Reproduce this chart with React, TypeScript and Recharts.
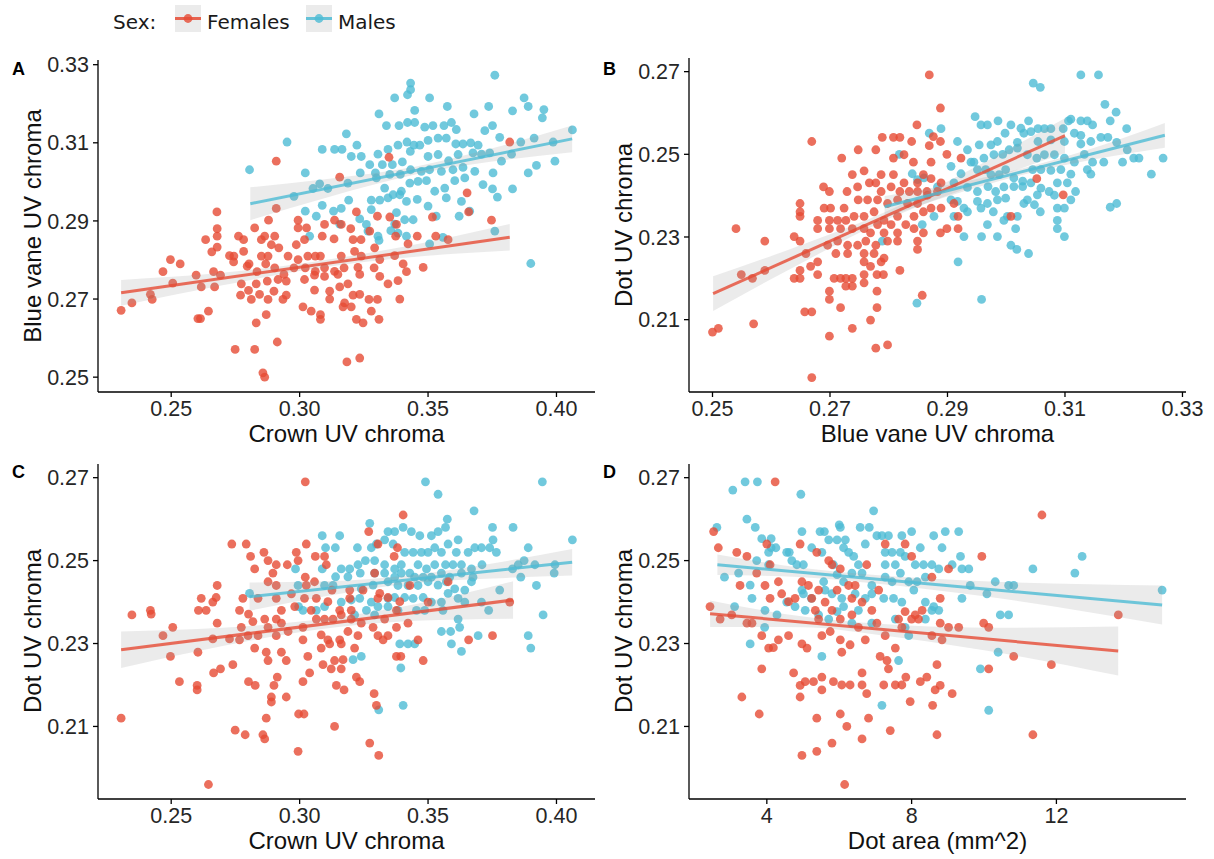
import { ComposedChart, Scatter, Line, Area, XAxis, YAxis } from 'recharts';

const RED = '#E64B35';
const BLUE = '#4DBBD5';
const FONT = '"Liberation Sans", Arial, Helvetica, sans-serif';
const LEGEND_FONT = '"DejaVu Sans", Verdana, sans-serif';

type Pair = [number, number];
type Band = [number, number, number]; // x, lower, upper

// tick values
const crownTicks = [0.25, 0.3, 0.35, 0.4];
const vaneTicks = [0.25, 0.27, 0.29, 0.31, 0.33];
const dotTicks = [0.21, 0.23, 0.25, 0.27];
const areaTicks = [4, 8, 12];

// A: crown UV chroma (x) vs blue vane UV chroma (y)
const crownVaneFemales: Pair[] = [
  [0.2909,0.3053],[0.3348,0.3063],[0.3156,0.3012],[0.3818,0.3102],[0.3652,0.2972],[0.2909,0.2932],[0.2678,0.2923],[0.2879,0.2902],
  [0.2994,0.2902],[0.3136,0.2902],[0.3221,0.2923],[0.3303,0.2912],[0.3351,0.291],[0.3517,0.291],[0.3658,0.2923],[0.3747,0.2902],
  [0.2679,0.288],[0.2825,0.2882],[0.2864,0.2861],[0.2903,0.2861],[0.2994,0.2882],[0.3027,0.2882],[0.3097,0.2891],[0.3162,0.2891],
  [0.3199,0.288],[0.3273,0.2874],[0.3377,0.2891],[0.3458,0.2861],[0.353,0.2861],[0.3578,0.2852],[0.2634,0.2852],[0.2679,0.2861],
  [0.2762,0.2861],[0.2782,0.2852],[0.2851,0.2852],[0.289,0.2839],[0.2919,0.2831],[0.2987,0.2839],[0.3019,0.2852],[0.3088,0.2861],
  [0.3134,0.2854],[0.3208,0.2852],[0.3239,0.2852],[0.3292,0.2831],[0.3374,0.2861],[0.3422,0.2841],[0.2497,0.2801],[0.2535,0.279],
  [0.2658,0.2821],[0.2679,0.2833],[0.2727,0.2811],[0.2744,0.281],[0.2782,0.2822],[0.2803,0.279],[0.2851,0.281],[0.2877,0.281],
  [0.2955,0.281],[0.2994,0.2801],[0.3032,0.281],[0.3061,0.281],[0.3081,0.281],[0.3162,0.281],[0.3214,0.2822],[0.324,0.281],
  [0.3312,0.2801],[0.337,0.2811],[0.3403,0.279],[0.2468,0.277],[0.2597,0.2761],[0.2665,0.277],[0.2692,0.2761],[0.2743,0.2795],
  [0.2796,0.2784],[0.2834,0.277],[0.2868,0.279],[0.2903,0.278],[0.2939,0.2763],[0.2978,0.278],[0.3022,0.278],[0.3061,0.2771],
  [0.3097,0.278],[0.3136,0.2771],[0.3173,0.278],[0.3227,0.2781],[0.329,0.278],[0.3312,0.2758],[0.3416,0.277],[0.3481,0.2781],
  [0.2506,0.2741],[0.2617,0.2731],[0.2669,0.2731],[0.2773,0.2739],[0.2801,0.2722],[0.2831,0.2739],[0.2874,0.2746],[0.2916,0.275],
  [0.2948,0.2746],[0.3019,0.275],[0.3058,0.2761],[0.3097,0.2758],[0.3149,0.2763],[0.3188,0.2739],[0.3234,0.2763],[0.3344,0.2739],
  [0.3383,0.2747],[0.2419,0.2712],[0.2426,0.2699],[0.2347,0.269],[0.2305,0.2671],[0.277,0.271],[0.2812,0.2699],[0.2844,0.2712],
  [0.29,0.272],[0.2948,0.271],[0.3058,0.2723],[0.3117,0.272],[0.3156,0.2731],[0.3208,0.271],[0.3234,0.2712],[0.327,0.2699],
  [0.3303,0.2699],[0.339,0.27],[0.2877,0.2699],[0.2935,0.2699],[0.3117,0.27],[0.3175,0.269],[0.3169,0.268],[0.3201,0.268],
  [0.3013,0.268],[0.3045,0.2669],[0.3081,0.266],[0.3081,0.2648],[0.3221,0.2648],[0.3247,0.2639],[0.3279,0.2669],[0.3309,0.2648],
  [0.2604,0.265],[0.2614,0.265],[0.2645,0.2669],[0.2831,0.2639],[0.287,0.266],[0.2913,0.259],[0.2749,0.2571],[0.2825,0.2571],
  [0.3184,0.2539],[0.3234,0.2549],[0.2857,0.2511],[0.2864,0.25],
];
const crownVaneMales: Pair[] = [
  [0.376,0.3273],[0.3432,0.3253],[0.3432,0.3236],[0.342,0.3223],[0.337,0.3215],[0.3506,0.3215],[0.3874,0.3215],[0.389,0.3193],
  [0.3575,0.3193],[0.3736,0.3193],[0.3951,0.3185],[0.3829,0.3182],[0.3448,0.3183],[0.3309,0.3174],[0.3679,0.3174],[0.3945,0.3164],
  [0.3338,0.3144],[0.3387,0.3144],[0.342,0.3152],[0.3448,0.3152],[0.3487,0.314],[0.3519,0.3144],[0.3562,0.3144],[0.3591,0.3152],
  [0.361,0.3134],[0.3721,0.3131],[0.3751,0.3144],[0.3779,0.3114],[0.3182,0.3123],[0.2951,0.3102],[0.3088,0.3083],[0.3136,0.3083],
  [0.3165,0.3083],[0.3223,0.3094],[0.3305,0.3071],[0.3344,0.3083],[0.3383,0.3094],[0.3418,0.3102],[0.3445,0.3094],[0.3468,0.3094],
  [0.35,0.3106],[0.3539,0.3112],[0.3571,0.3112],[0.3608,0.3097],[0.3636,0.3097],[0.3666,0.31],[0.3695,0.3094],[0.3861,0.3102],
  [0.3913,0.3112],[0.3987,0.3102],[0.4062,0.3133],[0.3201,0.3065],[0.324,0.3065],[0.3273,0.3044],[0.3322,0.3044],[0.3361,0.3044],
  [0.34,0.3051],[0.3431,0.3078],[0.35,0.3065],[0.3539,0.307],[0.358,0.3054],[0.3617,0.307],[0.3675,0.3074],[0.3708,0.3071],
  [0.374,0.3074],[0.3825,0.3071],[0.3786,0.3053],[0.3994,0.3053],[0.2805,0.3031],[0.3022,0.3023],[0.3236,0.3023],[0.3295,0.3023],
  [0.3351,0.3019],[0.3392,0.3019],[0.3432,0.3031],[0.3474,0.3027],[0.3506,0.3031],[0.3552,0.3027],[0.3597,0.3031],[0.3636,0.3037],
  [0.3682,0.3027],[0.3753,0.3023],[0.389,0.3023],[0.3922,0.3042],[0.3052,0.2983],[0.3078,0.2995],[0.311,0.2983],[0.3188,0.2997],
  [0.3299,0.301],[0.3331,0.2984],[0.3364,0.2967],[0.3396,0.2976],[0.3429,0.2997],[0.3461,0.3001],[0.3494,0.3003],[0.3526,0.2976],
  [0.3565,0.2984],[0.3604,0.3003],[0.3643,0.301],[0.3714,0.2993],[0.3751,0.2982],[0.3829,0.2982],[0.377,0.2961],[0.2978,0.2963],
  [0.3022,0.2925],[0.3088,0.294],[0.3132,0.2925],[0.3162,0.2932],[0.3191,0.2953],[0.3279,0.2953],[0.3312,0.2953],[0.3344,0.2959],
  [0.339,0.2967],[0.3416,0.295],[0.3458,0.2955],[0.35,0.2938],[0.3571,0.2959],[0.363,0.295],[0.3662,0.2925],[0.3621,0.2912],
  [0.3065,0.2912],[0.3156,0.2892],[0.3234,0.2905],[0.326,0.2891],[0.3279,0.2929],[0.3377,0.2921],[0.3409,0.2903],[0.3442,0.2903],
  [0.3532,0.2912],[0.337,0.2892],[0.3266,0.2874],[0.3305,0.2861],[0.3355,0.2875],[0.3383,0.2869],[0.3416,0.2861],[0.3039,0.2861],
  [0.3309,0.285],[0.3558,0.2858],[0.3506,0.2841],[0.376,0.2874],[0.39,0.2791],
];
const crownVaneFitF: Pair[] = [[0.2305,0.2716],[0.3818,0.2858]];
const crownVaneFitM: Pair[] = [[0.2808,0.2944],[0.4061,0.311]];
const crownVaneBandF: Band[] = [[0.2305,0.2683,0.2749],[0.27,0.2735,0.2767],[0.305,0.2777,0.2795],[0.34,0.2805,0.2833],[0.3818,0.2824,0.2892]];
const crownVaneBandM: Band[] = [[0.2808,0.2902,0.2986],[0.31,0.2959,0.3007],[0.345,0.3019,0.3039],[0.375,0.3052,0.3086],[0.4061,0.3076,0.3144]];

// B: blue vane UV chroma (x) vs dot UV chroma (y)
const vaneDotFemales: Pair[] = [
  [0.2869,0.2692],[0.2888,0.2612],[0.2848,0.2571],[0.2669,0.2531],[0.2789,0.2541],[0.2808,0.2541],[0.2819,0.2541],[0.2839,0.2531],
  [0.2869,0.2521],[0.2876,0.2543],[0.2888,0.2531],[0.2748,0.2511],[0.2778,0.2511],[0.272,0.2491],[0.2808,0.2491],[0.2826,0.2499],
  [0.2842,0.2481],[0.2872,0.2481],[0.2899,0.25],[0.2923,0.2491],[0.2738,0.2451],[0.2758,0.246],[0.2787,0.2451],[0.2808,0.2451],
  [0.2826,0.2431],[0.2849,0.2431],[0.2859,0.2451],[0.2872,0.2441],[0.2889,0.2431],[0.2865,0.241],[0.2689,0.2421],[0.2699,0.241],
  [0.2729,0.241],[0.2747,0.2421],[0.2767,0.2431],[0.2778,0.2431],[0.2787,0.241],[0.2804,0.2421],[0.2819,0.241],[0.2835,0.241],
  [0.2849,0.241],[0.2866,0.2401],[0.2883,0.241],[0.3052,0.2441],[0.3097,0.2402],[0.2649,0.2381],[0.269,0.237],[0.2701,0.237],
  [0.2724,0.237],[0.2748,0.239],[0.2764,0.239],[0.2781,0.239],[0.2798,0.2381],[0.2815,0.239],[0.2832,0.2381],[0.2849,0.2381],
  [0.2872,0.237],[0.2889,0.237],[0.2911,0.2381],[0.2649,0.2361],[0.2649,0.235],[0.2679,0.234],[0.2699,0.234],[0.2713,0.234],
  [0.2727,0.234],[0.2741,0.235],[0.2758,0.235],[0.2775,0.2361],[0.2792,0.234],[0.2815,0.235],[0.2829,0.233],[0.2843,0.235],
  [0.2859,0.2361],[0.2781,0.233],[0.2804,0.233],[0.2679,0.232],[0.2699,0.232],[0.2718,0.232],[0.2738,0.232],[0.2758,0.232],
  [0.2769,0.231],[0.2792,0.231],[0.2815,0.231],[0.2843,0.232],[0.2859,0.231],[0.2888,0.231],[0.2899,0.232],[0.2918,0.232],
  [0.2918,0.235],[0.3008,0.235],[0.254,0.232],[0.2639,0.2301],[0.2649,0.229],[0.2589,0.229],[0.2696,0.228],[0.2713,0.229],
  [0.273,0.228],[0.2747,0.228],[0.2761,0.229],[0.2778,0.228],[0.2798,0.229],[0.2815,0.229],[0.2849,0.229],[0.2659,0.226],
  [0.2679,0.224],[0.271,0.226],[0.273,0.226],[0.2758,0.226],[0.2775,0.226],[0.2792,0.2249],[0.2758,0.224],[0.2769,0.2229],
  [0.2787,0.224],[0.2667,0.2229],[0.2849,0.227],[0.2549,0.2209],[0.2568,0.22],[0.2589,0.2219],[0.2639,0.22],[0.2649,0.2219],
  [0.2649,0.22],[0.2679,0.2209],[0.2707,0.22],[0.2718,0.22],[0.2727,0.22],[0.2738,0.22],[0.2758,0.2209],[0.278,0.2209],
  [0.2791,0.2209],[0.2819,0.2219],[0.2727,0.2181],[0.2738,0.2181],[0.2758,0.2189],[0.2699,0.2169],[0.2699,0.2149],[0.278,0.2169],
  [0.2857,0.2159],[0.2718,0.2129],[0.278,0.2129],[0.2657,0.2119],[0.2669,0.2119],[0.2769,0.2099],[0.25,0.207],[0.251,0.2079],
  [0.257,0.209],[0.2738,0.2079],[0.2699,0.206],[0.2778,0.2031],[0.2798,0.2039],[0.2669,0.196],
];
const vaneDotMales: Pair[] = [
  [0.3127,0.2692],[0.3157,0.2692],[0.3046,0.2672],[0.3058,0.2662],[0.3168,0.2621],[0.3187,0.2602],[0.2947,0.2591],[0.3177,0.2581],
  [0.2957,0.2571],[0.2968,0.2571],[0.2986,0.2581],[0.3008,0.2571],[0.3025,0.2563],[0.3038,0.2581],[0.3054,0.2562],[0.3065,0.2562],
  [0.3076,0.2562],[0.3097,0.2562],[0.3106,0.2581],[0.311,0.2585],[0.3127,0.2581],[0.3138,0.2581],[0.3147,0.2571],[0.3205,0.2562],
  [0.2869,0.2551],[0.2889,0.2562],[0.2917,0.2531],[0.2954,0.2523],[0.2974,0.2523],[0.2985,0.2531],[0.2998,0.2551],[0.3019,0.2529],
  [0.303,0.2551],[0.3042,0.2555],[0.3054,0.2531],[0.3076,0.2535],[0.3099,0.2531],[0.3116,0.2551],[0.3127,0.2546],[0.3127,0.2525],
  [0.3144,0.2531],[0.3161,0.2541],[0.3173,0.2541],[0.3188,0.2529],[0.3206,0.2511],[0.3217,0.2491],[0.3226,0.2491],[0.3198,0.2481],
  [0.3267,0.2491],[0.3247,0.2452],[0.2818,0.25],[0.2934,0.2511],[0.2945,0.2481],[0.294,0.2481],[0.2962,0.2491],[0.2979,0.2499],
  [0.2994,0.25],[0.3005,0.2511],[0.3019,0.2515],[0.3036,0.2499],[0.3052,0.2491],[0.3065,0.2499],[0.3082,0.2499],[0.3099,0.2491],
  [0.3116,0.2481],[0.3133,0.25],[0.3147,0.2481],[0.3166,0.2481],[0.284,0.2453],[0.2849,0.2439],[0.286,0.2443],[0.2906,0.2471],
  [0.2923,0.2453],[0.2951,0.2463],[0.2965,0.2463],[0.2974,0.2451],[0.2988,0.2451],[0.2999,0.2463],[0.3013,0.2443],[0.3028,0.2435],
  [0.3045,0.2463],[0.3059,0.2463],[0.3076,0.2461],[0.3093,0.2463],[0.311,0.2452],[0.3138,0.2463],[0.3144,0.2452],[0.2883,0.2421],
  [0.2911,0.2431],[0.2934,0.242],[0.2951,0.241],[0.2969,0.2422],[0.2982,0.241],[0.2996,0.2421],[0.3013,0.2422],[0.3028,0.2422],
  [0.3042,0.2431],[0.3059,0.2418],[0.3073,0.241],[0.3087,0.2431],[0.3104,0.2431],[0.3118,0.241],[0.2906,0.239],[0.2917,0.2386],
  [0.2928,0.237],[0.2951,0.2386],[0.2968,0.2381],[0.2985,0.239],[0.2999,0.2394],[0.3036,0.239],[0.3053,0.2402],[0.3082,0.2401],
  [0.311,0.239],[0.3177,0.2372],[0.3188,0.2381],[0.2911,0.235],[0.2934,0.2361],[0.2957,0.237],[0.2978,0.2361],[0.3002,0.235],
  [0.3019,0.235],[0.303,0.2381],[0.3048,0.2378],[0.3058,0.2361],[0.3087,0.237],[0.3099,0.237],[0.3087,0.234],[0.2996,0.234],
  [0.2968,0.233],[0.3016,0.232],[0.3087,0.232],[0.2928,0.2301],[0.2958,0.2301],[0.2985,0.2301],[0.3099,0.2301],[0.3008,0.228],
  [0.3018,0.227],[0.3038,0.226],[0.2857,0.233],[0.2877,0.235],[0.2789,0.229],[0.2918,0.224],[0.2848,0.214],[0.2958,0.2149],
];
const vaneDotFitF: Pair[] = [[0.2501,0.2163],[0.31,0.2545]];
const vaneDotFitM: Pair[] = [[0.2793,0.2373],[0.327,0.2546]];
const vaneDotBandF: Band[] = [[0.2501,0.2121,0.2205],[0.265,0.2236,0.228],[0.28,0.2344,0.2364],[0.295,0.2427,0.2471],[0.31,0.2503,0.2587]];
const vaneDotBandM: Band[] = [[0.2793,0.2347,0.2399],[0.29,0.2398,0.2426],[0.303,0.2451,0.2467],[0.315,0.2488,0.2516],[0.327,0.2516,0.2576]];

// C: crown UV chroma (x) vs dot UV chroma (y)
const crownDotFemales: Pair[] = [
  [0.3022,0.269],[0.3403,0.261],[0.3269,0.257],[0.2736,0.254],[0.2792,0.254],[0.3026,0.254],[0.3305,0.254],[0.3381,0.2531],
  [0.2809,0.251],[0.2861,0.252],[0.2987,0.252],[0.3061,0.251],[0.3097,0.251],[0.3368,0.251],[0.2877,0.25],[0.2909,0.249],
  [0.2952,0.249],[0.2994,0.25],[0.3104,0.249],[0.2825,0.248],[0.2896,0.247],[0.3022,0.246],[0.3292,0.247],[0.2877,0.2449],
  [0.2909,0.244],[0.2679,0.244],[0.3058,0.2449],[0.3026,0.244],[0.3126,0.2429],[0.3195,0.2429],[0.3247,0.2429],[0.3312,0.2421],
  [0.3429,0.244],[0.2617,0.2409],[0.2675,0.2411],[0.2779,0.2409],[0.2838,0.2409],[0.2909,0.2409],[0.2968,0.242],[0.3019,0.2409],
  [0.3065,0.2409],[0.311,0.2401],[0.3195,0.2409],[0.3305,0.2409],[0.3344,0.2411],[0.339,0.2401],[0.2662,0.24],[0.2606,0.238],
  [0.2636,0.238],[0.2766,0.238],[0.2801,0.2371],[0.2929,0.238],[0.2981,0.2389],[0.3045,0.238],[0.3156,0.238],[0.3201,0.238],
  [0.3377,0.238],[0.35,0.24],[0.3578,0.2449],[0.3818,0.24],[0.2347,0.2369],[0.2422,0.2371],[0.2419,0.238],[0.2506,0.2339],
  [0.2468,0.2319],[0.2662,0.2311],[0.2679,0.2349],[0.2727,0.2311],[0.2766,0.2309],[0.2773,0.2339],[0.2818,0.2353],[0.2838,0.2319],
  [0.2864,0.2359],[0.2909,0.2359],[0.2929,0.2349],[0.2955,0.2329],[0.3013,0.2339],[0.3065,0.2359],[0.3097,0.2359],[0.313,0.2359],
  [0.3162,0.2369],[0.3201,0.2359],[0.324,0.2349],[0.3286,0.2339],[0.3331,0.2359],[0.3377,0.2339],[0.3422,0.2349],[0.2799,0.2319],
  [0.2877,0.2339],[0.2909,0.2319],[0.3013,0.2309],[0.3084,0.2321],[0.311,0.2309],[0.3156,0.2309],[0.3188,0.2329],[0.3227,0.2319],
  [0.3305,0.2319],[0.3325,0.2309],[0.3344,0.2319],[0.3461,0.2309],[0.3658,0.2309],[0.3751,0.2319],[0.2497,0.2269],[0.2604,0.2279],
  [0.274,0.2249],[0.2825,0.2289],[0.287,0.2279],[0.2929,0.2279],[0.2948,0.2259],[0.2877,0.2259],[0.3032,0.2269],[0.3084,0.2289],
  [0.3117,0.2299],[0.3162,0.2299],[0.3214,0.2289],[0.3091,0.2249],[0.3136,0.2259],[0.3169,0.2261],[0.3123,0.2239],[0.3162,0.2239],
  [0.3377,0.2269],[0.3394,0.2269],[0.3481,0.2259],[0.2692,0.2239],[0.2665,0.2229],[0.2532,0.2208],[0.2601,0.2199],[0.2601,0.2188],
  [0.2801,0.2208],[0.2827,0.2199],[0.2913,0.2219],[0.29,0.2199],[0.3013,0.2208],[0.3039,0.2229],[0.3221,0.2219],[0.3234,0.2208],
  [0.3143,0.2199],[0.3173,0.2188],[0.289,0.2171],[0.289,0.2159],[0.2948,0.2171],[0.329,0.2179],[0.3299,0.2151],[0.2305,0.212],
  [0.287,0.212],[0.2996,0.213],[0.3017,0.213],[0.2749,0.2091],[0.2788,0.208],[0.2857,0.208],[0.2864,0.207],[0.3136,0.21],
  [0.3273,0.206],[0.3308,0.203],[0.2994,0.204],[0.2645,0.196],
];
const crownDotMales: Pair[] = [
  [0.349,0.269],[0.3945,0.269],[0.3539,0.266],[0.3679,0.262],[0.3575,0.26],[0.3273,0.259],[0.3751,0.258],[0.3831,0.258],
  [0.3088,0.256],[0.3156,0.256],[0.3344,0.257],[0.337,0.257],[0.3403,0.258],[0.3435,0.257],[0.3468,0.256],[0.3513,0.256],
  [0.3539,0.257],[0.3568,0.258],[0.3617,0.255],[0.3682,0.2531],[0.3708,0.2531],[0.374,0.2531],[0.3766,0.252],[0.3753,0.255],
  [0.389,0.2531],[0.4062,0.255],[0.3101,0.2531],[0.3139,0.2531],[0.3225,0.2531],[0.3279,0.2531],[0.3299,0.254],[0.3331,0.255],
  [0.3364,0.254],[0.3409,0.252],[0.3442,0.252],[0.3474,0.252],[0.35,0.252],[0.3526,0.2531],[0.3552,0.252],[0.3578,0.254],
  [0.361,0.252],[0.3656,0.252],[0.3851,0.249],[0.3874,0.25],[0.3916,0.249],[0.3994,0.249],[0.3991,0.247],[0.3829,0.248],
  [0.3861,0.246],[0.3922,0.244],[0.3948,0.2369],[0.2984,0.248],[0.3088,0.248],[0.3162,0.248],[0.3195,0.248],[0.3227,0.249],
  [0.3256,0.25],[0.3292,0.25],[0.3331,0.249],[0.337,0.248],[0.3396,0.249],[0.3429,0.247],[0.3461,0.249],[0.3494,0.248],
  [0.3526,0.249],[0.3568,0.249],[0.3597,0.249],[0.363,0.249],[0.3669,0.248],[0.371,0.249],[0.314,0.2461],[0.3188,0.2461],
  [0.3236,0.247],[0.3292,0.247],[0.3331,0.247],[0.337,0.246],[0.3396,0.247],[0.3448,0.246],[0.3481,0.246],[0.3513,0.246],
  [0.3552,0.247],[0.3584,0.246],[0.363,0.247],[0.3675,0.246],[0.2805,0.2421],[0.2994,0.244],[0.3097,0.244],[0.313,0.244],
  [0.324,0.2432],[0.3286,0.2441],[0.3344,0.2449],[0.3383,0.244],[0.3422,0.244],[0.3461,0.244],[0.35,0.2449],[0.3539,0.2441],
  [0.3571,0.2449],[0.3604,0.2432],[0.3643,0.2429],[0.3669,0.2449],[0.3779,0.2429],[0.2996,0.2389],[0.3013,0.238],[0.3065,0.238],
  [0.3097,0.2389],[0.3162,0.24],[0.3201,0.2405],[0.3234,0.2409],[0.3279,0.24],[0.3305,0.2389],[0.3344,0.2409],[0.337,0.2411],
  [0.3409,0.2411],[0.3442,0.2409],[0.3481,0.2411],[0.3513,0.24],[0.3552,0.24],[0.3578,0.2421],[0.3617,0.2409],[0.3643,0.24],
  [0.3708,0.24],[0.3736,0.238],[0.3214,0.2369],[0.326,0.238],[0.3292,0.2369],[0.3344,0.2389],[0.3383,0.238],[0.3455,0.238],
  [0.3487,0.238],[0.3558,0.238],[0.3617,0.2359],[0.3623,0.2339],[0.3552,0.2329],[0.3588,0.2329],[0.3591,0.2299],[0.363,0.2281],
  [0.3695,0.2319],[0.389,0.2319],[0.39,0.2289],[0.339,0.2299],[0.3422,0.2299],[0.3448,0.2299],[0.3208,0.2261],[0.324,0.2269],
  [0.3394,0.2241],[0.3403,0.2151],[0.3308,0.214],
];
const crownDotFitF: Pair[] = [[0.2305,0.2285],[0.3831,0.2405]];
const crownDotFitM: Pair[] = [[0.2805,0.2413],[0.4061,0.2496]];
const crownDotBandF: Band[] = [[0.2305,0.2241,0.2329],[0.27,0.2294,0.2338],[0.305,0.2332,0.2356],[0.345,0.2355,0.2395],[0.3831,0.236,0.245]];
const crownDotBandM: Band[] = [[0.2805,0.2379,0.2447],[0.31,0.2414,0.245],[0.345,0.2446,0.2466],[0.375,0.2457,0.2493],[0.4061,0.2464,0.2528]];

// D: dot area (x) vs dot UV chroma (y)
const areaDotFemales: Pair[] = [
  [4.23,0.269],[2.53,0.257],[2.66,0.2531],[3.17,0.252],[3.45,0.251],[4.0,0.254],[4.09,0.249],[3.72,0.247],
  [3.26,0.244],[3.95,0.244],[4.09,0.2409],[4.32,0.2449],[4.41,0.242],[4.6,0.2401],[4.78,0.2409],[4.92,0.254],
  [5.38,0.252],[5.71,0.25],[5.8,0.249],[6.03,0.248],[4.97,0.2449],[5.15,0.244],[5.24,0.2409],[5.43,0.2429],
  [5.61,0.24],[5.94,0.2429],[6.26,0.244],[6.35,0.2409],[6.44,0.244],[6.63,0.24],[6.76,0.249],[7.09,0.2429],
  [7.27,0.254],[7.82,0.254],[8.0,0.251],[7.82,0.2377],[7.64,0.2359],[8.1,0.2369],[8.29,0.238],[8.56,0.246],
  [8.79,0.2409],[9.02,0.248],[9.94,0.251],[2.43,0.2389],[2.71,0.2359],[3.03,0.2369],[3.45,0.2349],[3.59,0.2349],
  [3.86,0.2319],[4.05,0.2289],[4.18,0.229],[4.32,0.2309],[4.6,0.2319],[4.97,0.2299],[5.11,0.2289],[5.34,0.238],
  [5.43,0.2359],[5.52,0.2319],[5.75,0.2329],[5.8,0.238],[6.03,0.2359],[6.03,0.2309],[6.07,0.2279],[6.3,0.2297],
  [6.35,0.2369],[6.53,0.2339],[6.72,0.2309],[6.9,0.238],[7.04,0.2349],[7.27,0.2319],[7.55,0.2289],[7.73,0.2339],
  [8.0,0.2359],[8.19,0.2359],[8.56,0.2319],[8.79,0.2349],[8.84,0.2309],[9.02,0.2339],[9.3,0.2339],[9.99,0.2349],
  [10.13,0.2339],[10.82,0.2269],[11.86,0.2249],[13.71,0.2369],[11.6,0.261],[3.86,0.2239],[4.74,0.2229],[4.92,0.2199],
  [5.06,0.2208],[5.29,0.2208],[5.52,0.2219],[5.52,0.2188],[5.84,0.2208],[6.07,0.22],[6.3,0.22],[6.63,0.2229],
  [6.63,0.22],[6.76,0.2179],[7.13,0.2269],[7.32,0.2259],[7.36,0.2239],[7.23,0.22],[7.55,0.22],[7.73,0.22],
  [7.84,0.2219],[8.24,0.2208],[8.42,0.2219],[8.65,0.2188],[8.79,0.2199],[9.12,0.2179],[8.7,0.2249],[7.96,0.216],
  [8.58,0.2151],[10.13,0.2239],[3.31,0.2171],[3.79,0.213],[4.92,0.2171],[5.38,0.212],[6.03,0.213],[6.21,0.21],
  [6.81,0.212],[7.41,0.209],[8.7,0.208],[11.35,0.208],[5.8,0.206],[6.63,0.207],[5.38,0.204],[4.97,0.203],
  [6.15,0.196],
];
const areaDotMales: Pair[] = [
  [3.06,0.267],[3.4,0.269],[3.74,0.269],[4.94,0.266],[6.95,0.262],[2.62,0.258],[3.45,0.26],[3.68,0.258],
  [3.86,0.2553],[4.12,0.2553],[2.83,0.246],[3.11,0.2389],[3.22,0.247],[3.54,0.2441],[3.59,0.2409],[3.72,0.25],
  [3.95,0.238],[4.05,0.252],[4.12,0.2531],[4.25,0.2531],[3.54,0.2299],[3.94,0.2339],[4.05,0.249],[4.55,0.252],
  [4.62,0.252],[4.69,0.25],[4.83,0.249],[4.97,0.257],[5.01,0.249],[4.97,0.2429],[5.24,0.2531],[5.23,0.2409],
  [5.47,0.257],[5.59,0.257],[5.52,0.252],[5.57,0.2449],[5.71,0.255],[5.84,0.249],[5.94,0.255],[6.0,0.2586],
  [6.03,0.258],[6.12,0.2531],[6.17,0.255],[6.26,0.252],[6.4,0.251],[6.53,0.249],[6.58,0.258],[6.72,0.254],
  [6.83,0.258],[7.04,0.256],[7.18,0.256],[7.36,0.256],[7.27,0.252],[7.46,0.252],[7.69,0.252],[7.73,0.256],
  [8.0,0.257],[8.24,0.2531],[8.61,0.256],[8.84,0.2531],[8.93,0.257],[9.3,0.257],[9.35,0.251],[7.27,0.249],
  [7.55,0.249],[7.82,0.251],[8.1,0.249],[8.33,0.249],[8.56,0.249],[8.75,0.248],[9.12,0.249],[9.39,0.248],
  [9.58,0.248],[5.94,0.2466],[6.12,0.2449],[6.35,0.247],[6.63,0.247],[6.9,0.244],[7.27,0.246],[7.46,0.2449],
  [7.69,0.247],[7.92,0.2449],[8.15,0.2449],[8.38,0.246],[5.61,0.2429],[5.8,0.242],[6.07,0.2409],[6.44,0.242],
  [6.72,0.2409],[6.9,0.242],[7.23,0.2409],[7.5,0.2409],[7.73,0.24],[8.06,0.2429],[8.38,0.24],[8.61,0.2389],
  [8.75,0.238],[9.62,0.244],[9.39,0.2409],[10.08,0.242],[10.31,0.2449],[10.68,0.244],[10.82,0.244],[10.45,0.2369],
  [10.68,0.2369],[11.35,0.248],[12.51,0.247],[12.71,0.251],[14.92,0.2429],[4.28,0.2369],[4.55,0.24],[4.78,0.2389],
  [5.06,0.238],[5.43,0.2369],[5.71,0.2359],[5.94,0.2377],[6.12,0.2389],[6.35,0.2349],[6.53,0.238],[6.9,0.2349],
  [7.55,0.2359],[7.82,0.2339],[7.92,0.2319],[8.38,0.2359],[8.56,0.238],[5.52,0.2269],[7.64,0.2259],[10.39,0.2279],
  [9.9,0.2239],[7.18,0.2151],[10.13,0.2139],[5.01,0.242],
];
const areaDotFitF: Pair[] = [[2.432,0.2372],[13.707,0.2282]];
const areaDotFitM: Pair[] = [[2.634,0.249],[14.92,0.2393]];
const areaDotBandF: Band[] = [[2.432,0.234,0.2404],[5,0.2339,0.2365],[7,0.2322,0.2348],[10,0.2284,0.2338],[13.707,0.2223,0.2341]];
const areaDotBandM: Band[] = [[2.634,0.2465,0.2515],[5,0.246,0.2482],[7,0.2445,0.2465],[10,0.2414,0.245],[14.92,0.2346,0.244]];

const YW = 60;
const MT = 10;
const MR = 30;
const XH = 30;

const toPoints = (arr: Pair[]) => arr.map(([x, y]) => ({ x, y }));
const toBand = (arr: Band[]) => arr.map(([x, lo, hi]) => ({ x, band: [lo, hi] }));

const dot = (color: string) => (p: any) => (
  <circle cx={p.cx} cy={p.cy} r={4.4} fill={color} fillOpacity={0.8} />
);

interface PanelProps {
  left: number;
  top: number;
  plotW: number;
  plotH: number;
  xDomain: [number, number];
  yDomain: [number, number];
  xTicks: number[];
  yTicks: number[];
  xDigits: number;
  females: Pair[];
  males: Pair[];
  fitF: Pair[];
  fitM: Pair[];
  bandF: Band[];
  bandM: Band[];
}

function Panel(p: PanelProps) {
  const tickStyle = { fill: '#262626', fontSize: 21.5, fontFamily: FONT };
  return (
    <div style={{ position: 'absolute', left: p.left - YW, top: p.top - MT }}>
      <ComposedChart
        width={YW + p.plotW + MR}
        height={MT + p.plotH + XH}
        margin={{ top: MT, right: MR, bottom: 0, left: 0 }}
      >
        <XAxis
          type="number"
          dataKey="x"
          domain={p.xDomain}
          allowDataOverflow
          ticks={p.xTicks}
          interval={0}
          tickFormatter={(v: number) => (p.xDigits ? v.toFixed(p.xDigits) : String(v))}
          height={XH}
          stroke="#000"
          strokeWidth={1.3}
          tickSize={5}
          tickMargin={4}
          tick={tickStyle}
        />
        <YAxis
          type="number"
          dataKey="y"
          domain={p.yDomain}
          allowDataOverflow
          ticks={p.yTicks}
          interval={0}
          tickFormatter={(v: number) => v.toFixed(2)}
          width={YW}
          stroke="#000"
          strokeWidth={1.3}
          tickSize={5}
          tickMargin={4}
          tick={tickStyle}
        />
        <Scatter data={toPoints(p.males)} dataKey="y" fill={BLUE} shape={dot(BLUE)} isAnimationActive={false} />
        <Scatter data={toPoints(p.females)} dataKey="y" fill={RED} shape={dot(RED)} isAnimationActive={false} />
        <Area data={toBand(p.bandF)} dataKey="band" type="monotone" stroke="none" fill="#999999" fillOpacity={0.2} isAnimationActive={false} zIndex={650} />
        <Area data={toBand(p.bandM)} dataKey="band" type="monotone" stroke="none" fill="#999999" fillOpacity={0.2} isAnimationActive={false} zIndex={650} />
        <Line data={toPoints(p.fitF)} dataKey="y" type="linear" stroke={RED} strokeOpacity={0.8} strokeWidth={3} dot={false} activeDot={false} isAnimationActive={false} zIndex={700} />
        <Line data={toPoints(p.fitM)} dataKey="y" type="linear" stroke={BLUE} strokeOpacity={0.8} strokeWidth={3} dot={false} activeDot={false} isAnimationActive={false} zIndex={700} />
      </ComposedChart>
    </div>
  );
}

function XTitle({ x, y, text }: { x: number; y: number; text: string }) {
  return (
    <text x={x} y={y} textAnchor="middle" fontFamily={FONT} fontSize={24} fill="#111">
      {text}
    </text>
  );
}

function YTitle({ x, y, text }: { x: number; y: number; text: string }) {
  return (
    <text x={x} y={y} textAnchor="middle" fontFamily={FONT} fontSize={24} fill="#111" transform={`rotate(-90 ${x} ${y})`}>
      {text}
    </text>
  );
}

function Letter({ x, y, text }: { x: number; y: number; text: string }) {
  return (
    <text x={x} y={y} fontFamily={FONT} fontSize={18} fontWeight="bold" fill="#000">
      {text}
    </text>
  );
}

function LegendKey({ x, color }: { x: number; color: string }) {
  return (
    <g>
      <rect x={x} y={5} width={26} height={27} fill="#EBEBEB" />
      <line x1={x} x2={x + 26} y1={18.5} y2={18.5} stroke={color} strokeWidth={3} strokeOpacity={0.85} />
      <circle cx={x + 13} cy={18.5} r={4.4} fill={color} fillOpacity={0.8} />
    </g>
  );
}

export default function App() {
  return (
    <div style={{ position: 'absolute', left: 0, top: 0, width: 1214, height: 859, background: '#fff', overflow: 'hidden' }}>
      <svg width={1214} height={859} style={{ position: 'absolute', left: 0, top: 0 }}>
        <text x={113} y={29} fontFamily={LEGEND_FONT} fontSize={20} fill="#1a1a1a">Sex:</text>
        <LegendKey x={175} color={RED} />
        <text x={207} y={29} fontFamily={LEGEND_FONT} fontSize={20} fill="#1a1a1a">Females</text>
        <LegendKey x={306} color={BLUE} />
        <text x={338} y={29} fontFamily={LEGEND_FONT} fontSize={20} fill="#1a1a1a">Males</text>

        <Letter x={12} y={75} text="A" />
        <Letter x={603} y={75} text="B" />
        <Letter x={12} y={478} text="C" />
        <Letter x={603} y={478} text="D" />

        <XTitle x={346.5} y={442} text="Crown UV chroma" />
        <XTitle x={937.5} y={442} text="Blue vane UV chroma" />
        <XTitle x={346.5} y={849} text="Crown UV chroma" />
        <XTitle x={937.5} y={849} text="Dot area (mm^2)" />

        <YTitle x={41} y={226} text="Blue vane UV chroma" />
        <YTitle x={632} y={225} text="Dot UV chroma" />
        <YTitle x={41} y={631} text="Dot UV chroma" />
        <YTitle x={632} y={631} text="Dot UV chroma" />
      </svg>

      <Panel left={98} top={60} plotW={497} plotH={332} xDomain={[0.2215, 0.415]} yDomain={[0.2462, 0.3312]}
        xTicks={crownTicks} yTicks={vaneTicks} xDigits={2}
        females={crownVaneFemales} males={crownVaneMales} fitF={crownVaneFitF} fitM={crownVaneFitM}
        bandF={crownVaneBandF} bandM={crownVaneBandM} />
      <Panel left={689} top={58} plotW={497} plotH={334} xDomain={[0.246, 0.3306]} yDomain={[0.1925, 0.2733]}
        xTicks={vaneTicks} yTicks={dotTicks} xDigits={2}
        females={vaneDotFemales} males={vaneDotMales} fitF={vaneDotFitF} fitM={vaneDotFitM}
        bandF={vaneDotBandF} bandM={vaneDotBandM} />
      <Panel left={98} top={464} plotW={497} plotH={335} xDomain={[0.2215, 0.415]} yDomain={[0.1925, 0.2733]}
        xTicks={crownTicks} yTicks={dotTicks} xDigits={2}
        females={crownDotFemales} males={crownDotMales} fitF={crownDotFitF} fitM={crownDotFitM}
        bandF={crownDotBandF} bandM={crownDotBandM} />
      <Panel left={689} top={464} plotW={497} plotH={335} xDomain={[1.85, 15.58]} yDomain={[0.1925, 0.2733]}
        xTicks={areaTicks} yTicks={dotTicks} xDigits={0}
        females={areaDotFemales} males={areaDotMales} fitF={areaDotFitF} fitM={areaDotFitM}
        bandF={areaDotBandF} bandM={areaDotBandM} />
    </div>
  );
}
